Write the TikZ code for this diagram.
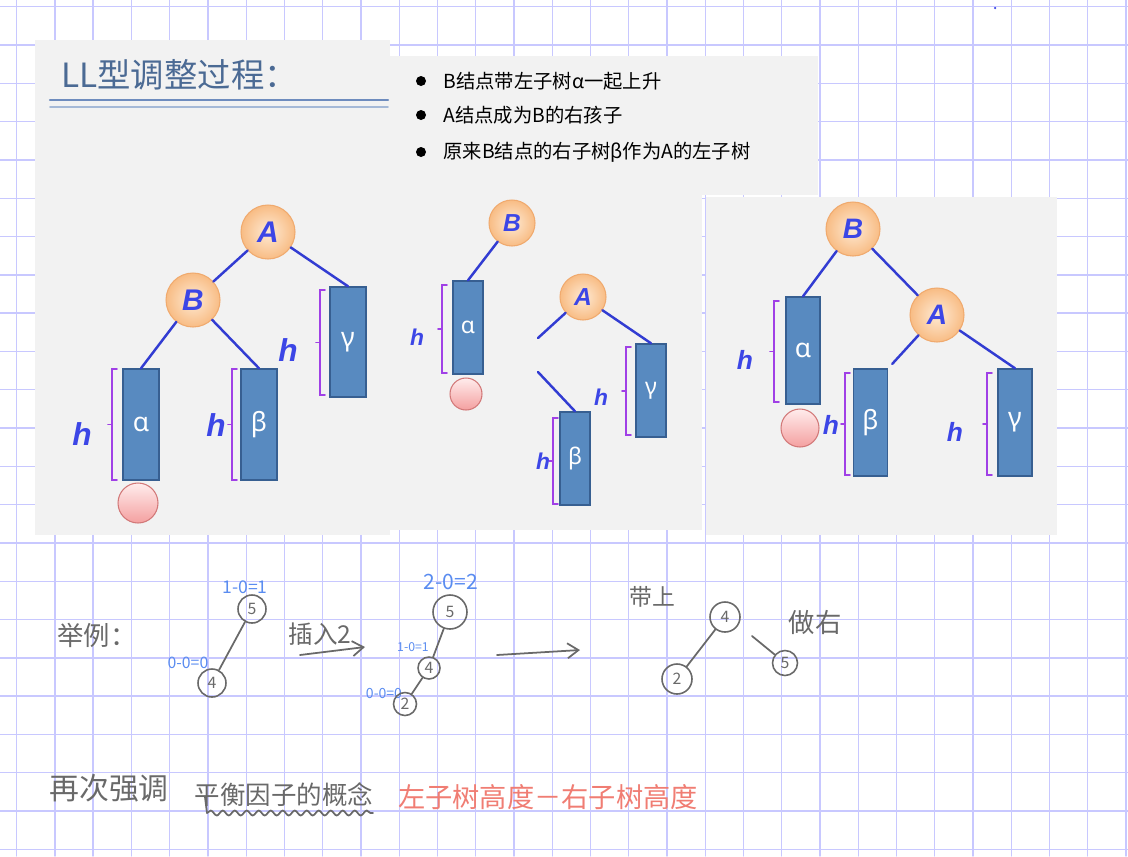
\documentclass[tikz,border=0pt]{standalone}
\usepackage{fontspec}
\newfontfamily\cjk{Noto Sans CJK SC}
\newfontfamily\lbl{Liberation Sans}
\newfontfamily\grk{Noto Sans}
\usetikzlibrary{arrows.meta,decorations.pathmorphing}

\definecolor{gridline}{RGB}{200,200,255}
\definecolor{panel}{RGB}{242,242,242}
\definecolor{titleblue}{RGB}{75,106,148}
\definecolor{ruleA}{RGB}{110,140,190}
\definecolor{ruleB}{RGB}{165,185,215}
\definecolor{keyfill}{RGB}{248,188,132}
\definecolor{keylight}{RGB}{254,234,212}
\definecolor{keyline}{RGB}{240,170,110}
\definecolor{letblue}{RGB}{60,70,230}
\definecolor{edgeblue}{RGB}{50,60,210}
\definecolor{subfill}{RGB}{88,138,192}
\definecolor{subline}{RGB}{55,95,145}
\definecolor{bracepurple}{RGB}{160,64,230}
\definecolor{newfill}{RGB}{244,160,160}
\definecolor{newlight}{RGB}{255,236,236}
\definecolor{newline}{RGB}{210,120,120}
\definecolor{pencil}{RGB}{105,105,105}
\definecolor{penblue}{RGB}{90,140,240}
\definecolor{penred}{RGB}{240,125,115}

% height bracket: x, top, bottom
\newcommand{\hbrace}[3]{%
  \draw[hbrk] (#1+5,#2) -- (#1,#2) -- (#1,#3) -- (#1+5,#3);
  \draw[hbrk] (#1,{(#2+#3)/2}) -- (#1-4,{(#2+#3)/2});}

\begin{document}
\begin{tikzpicture}[x=0.02cm, y=-0.02cm, >=Latex, line cap=round,
    gridrule/.style={draw=gridline, line width=0.8pt},
    titletext/.style={text=titleblue, font=\cjk\fontsize{19}{19}\selectfont, inner sep=0pt},
    bullettext/.style={text=black, font=\cjk\fontsize{11}{11}\selectfont, inner sep=0pt},
    dot/.style={circle, fill=black, minimum size=0.2cm, inner sep=0pt},
    keynode/.style={circle, draw=keyline, line width=0.6pt, inner color=keylight, outer color=keyfill, inner sep=0pt, text=letblue, keysize},
    sub/.style={rectangle, draw=subline, line width=0.8pt, fill=subfill, inner sep=0pt, text=white, subsize},
    newnode/.style={circle, draw=newline, line width=0.6pt, top color=newlight, bottom color=newfill, inner sep=0pt, minimum size=#1},
    hlab/.style={text=letblue, inner sep=0pt, hsize},
    keysize/.style={minimum size=1.08cm, font=\lbl\bfseries\itshape\fontsize{17}{17}\selectfont},
    subsize/.style={minimum width=0.72cm, minimum height=2.22cm, font=\grk\fontsize{15}{15}\selectfont},
    hsize/.style={font=\lbl\bfseries\itshape\fontsize{18}{18}\selectfont},
    link/.style={draw=edgeblue, line width=1.4pt},
    hbrk/.style={draw=bracepurple, line width=1pt},
    pen/.style={text=pencil, inner sep=0pt, font=\cjk\fontsize{#1}{#1}\selectfont},
    ink/.style={text=penblue, inner sep=0pt, font=\cjk\fontsize{#1}{#1}\selectfont},
    redpen/.style={text=penred, inner sep=0pt, font=\cjk\fontsize{#1}{#1}\selectfont},
    ring/.style={circle, draw=pencil, line width=0.9pt, inner sep=0pt, minimum size=#1, text=pencil, font=\cjk\fontsize{9}{9}\selectfont},
    stroke/.style={draw=pencil, line width=1pt},
    barb/.style={-{Straight Barb[length=0.22cm, width=0.3cm]}}]
  \useasboundingbox (0,0) rectangle (1128,856);

  % squared paper
  \foreach \gx in {0,...,29}
    \draw[gridrule] ({16.7+38.25*\gx},0) -- ({16.7+38.25*\gx},856);
  \foreach \gy in {0,...,22}
    \draw[gridrule] (0,{6.7+38.3*\gy}) -- (1128,{6.7+38.3*\gy});
  \node[circle, fill=letblue, minimum size=0.05cm, inner sep=0pt] (speck) at (995,8) {};

  % slide panels
  \fill[panel] (35,40) rectangle (390,535);
  \fill[panel] (390,56) rectangle (818,195);
  \fill[panel] (390,195) rectangle (702,530);
  \fill[panel] (706,197) rectangle (1057,535);

  % title and bullets
  \node[titletext, anchor=west] (ttl) at (61,75) {LL型调整过程：};
  \draw[ruleA, line width=1.2pt] (50,100) -- (388,100);
  \draw[ruleB, line width=1pt] (50,107) -- (388,107);
  \foreach \by/\txt [count=\i] in {81/{B结点带左子树α一起上升},
      115/{A结点成为B的右孩子}, 152/{原来B结点的右子树β作为A的左子树}} {
    \node[dot] (d\i) at (421,\by) {};
    \node[bullettext, anchor=west] (b\i) at (443,\by) {\txt};
  }

  % tree before the rotation
  \node[keynode] (A1) at (268,232) {A};
  \node[keynode] (B1) at (193,300) {B};
  \node[sub] (al1) at (141,424.5) {α};
  \node[sub] (be1) at (259,424.5) {β};
  \node[sub, minimum height=2.2cm] (ga1) at (348,342) {γ};
  \node[newnode=0.8cm] (n1) at (138,503) {};
  \draw[link] (A1) -- (B1);
  \draw[link] (A1) -- (ga1.north);
  \draw[link] (B1) -- (al1.north);
  \draw[link] (B1) -- (be1.north);
  \hbrace{112}{369}{480}
  \hbrace{232}{369}{480}
  \hbrace{320}{290}{395}
  \node[hlab] (h1a) at (82,434) {h};
  \node[hlab] (h1b) at (216,425) {h};
  \node[hlab] (h1c) at (288,350) {h};

  % tree taken apart
  \begin{scope}[keysize/.style={minimum size=0.92cm, font=\lbl\bfseries\itshape\fontsize{14}{14}\selectfont},
      subsize/.style={minimum width=0.6cm, minimum height=1.86cm, font=\grk\fontsize{13}{13}\selectfont},
      hsize/.style={font=\lbl\bfseries\itshape\fontsize{13}{13}\selectfont}]
    \node[keynode] (B2) at (512,223) {B};
    \node[keynode] (A2) at (583,297) {A};
    \node[sub] (al2) at (468,327.5) {α};
    \node[sub] (ga2) at (651,390.5) {γ};
    \node[sub] (be2) at (575,458.5) {β};
    \node[newnode=0.64cm] (n2) at (466,394) {};
    \coordinate (Astub) at (538,338);
    \coordinate (bstub) at (538,372);
    \draw[link] (B2) -- (al2.north);
    \draw[link] (A2) -- (Astub);
    \draw[link] (A2) -- (ga2.north);
    \draw[link] (bstub) -- (be2.north);
    \hbrace{442}{285}{373}
    \hbrace{626}{347}{435}
    \hbrace{553}{418}{504}
    \node[hlab] (h2a) at (417,337) {h};
    \node[hlab] (h2b) at (601,397) {h};
    \node[hlab] (h2c) at (543,461) {h};
  \end{scope}

  % tree after the rotation
  \begin{scope}[keysize/.style={minimum size=1.08cm, font=\lbl\bfseries\itshape\fontsize{16}{16}\selectfont},
      subsize/.style={minimum width=0.68cm, minimum height=2.14cm, font=\grk\fontsize{15}{15}\selectfont},
      hsize/.style={font=\lbl\bfseries\itshape\fontsize{15}{15}\selectfont}]
    \node[keynode] (B3) at (853,229) {B};
    \node[keynode] (A3) at (937,315) {A};
    \node[sub] (al3) at (803,350.5) {α};
    \node[sub] (be3) at (870.5,422.5) {β};
    \node[sub] (ga3) at (1015,422.5) {γ};
    \node[newnode=0.76cm] (n3) at (800,428) {};
    \draw[link] (B3) -- (al3.north);
    \draw[link] (B3) -- (A3);
    \draw[link, shorten >=0.12cm] (A3) -- (be3.north east);
    \draw[link] (A3) -- (ga3.north);
    \hbrace{774}{301}{402}
    \hbrace{845}{373}{475}
    \hbrace{987}{373}{475}
    \node[hlab] (h3a) at (745,360) {h};
    \node[hlab] (h3b) at (831,425) {h};
    \node[hlab] (h3c) at (955,432) {h};
  \end{scope}

  % worked example
  \node[pen=15] (ex) at (97,635) {举例：};
  \node[ink=10] (f5a) at (245,587) {1-0=1};
  \node[ring=0.56cm] (n5a) at (252,609) {5};
  \node[ring=0.56cm] (n4a) at (212,683) {4};
  \node[ink=9] (f4a) at (188,663) {0-0=0};
  \draw[stroke] (n5a) -- (n4a);
  \node[pen=14] (ins) at (320,634) {插入2};
  \coordinate (i1) at (300,655);
  \coordinate (i2) at (365,647);
  \draw[stroke, barb] (i1) -- (i2);

  \node[ink=12] (f5b) at (451,582) {2-0=2};
  \node[ring=0.68cm] (n5b) at (450,612) {5};
  \node[ink=7] (f4b) at (413,647) {1-0=1};
  \node[ring=0.44cm] (n4b) at (429,668) {4};
  \node[ink=8] (f2b) at (384,693) {0-0=0};
  \node[ring=0.46cm] (n2b) at (405,704) {2};
  \draw[stroke] (n5b) -- (n4b);
  \draw[stroke] (n4b) -- (n2b);
  \coordinate (r1) at (497,655);
  \coordinate (r2) at (580,650);
  \draw[stroke, barb] (r1) -- (r2);

  \node[pen=13] (up) at (652,597) {带上};
  \node[ring=0.6cm] (n4c) at (725,617) {4};
  \node[ring=0.6cm] (n2c) at (677,679) {2};
  \draw[stroke] (n4c) -- (n2c);
  \node[pen=15] (asr) at (815,622) {做右};
  \node[ring=0.5cm] (n5c) at (785,663) {5};
  \coordinate (s1) at (752,636);
  \draw[stroke] (s1) -- (n5c);

  % balance factor note
  \node[pen=17] (again) at (109,788) {再次强调};
  \node[pen=14.5] (bf) at (284,795) {平衡因子的概念};
  \coordinate (w0) at (205,797);
  \coordinate (w1) at (207,813);
  \coordinate (w2) at (373,813);
  \draw[stroke] (w0) -- (w1);
  \draw[stroke, decorate, decoration={snake, amplitude=0.05cm, segment length=0.24cm}] (w1) -- (w2);
  \node[redpen=15.5] (def) at (548,797) {左子树高度－右子树高度};
\end{tikzpicture}
\end{document}
